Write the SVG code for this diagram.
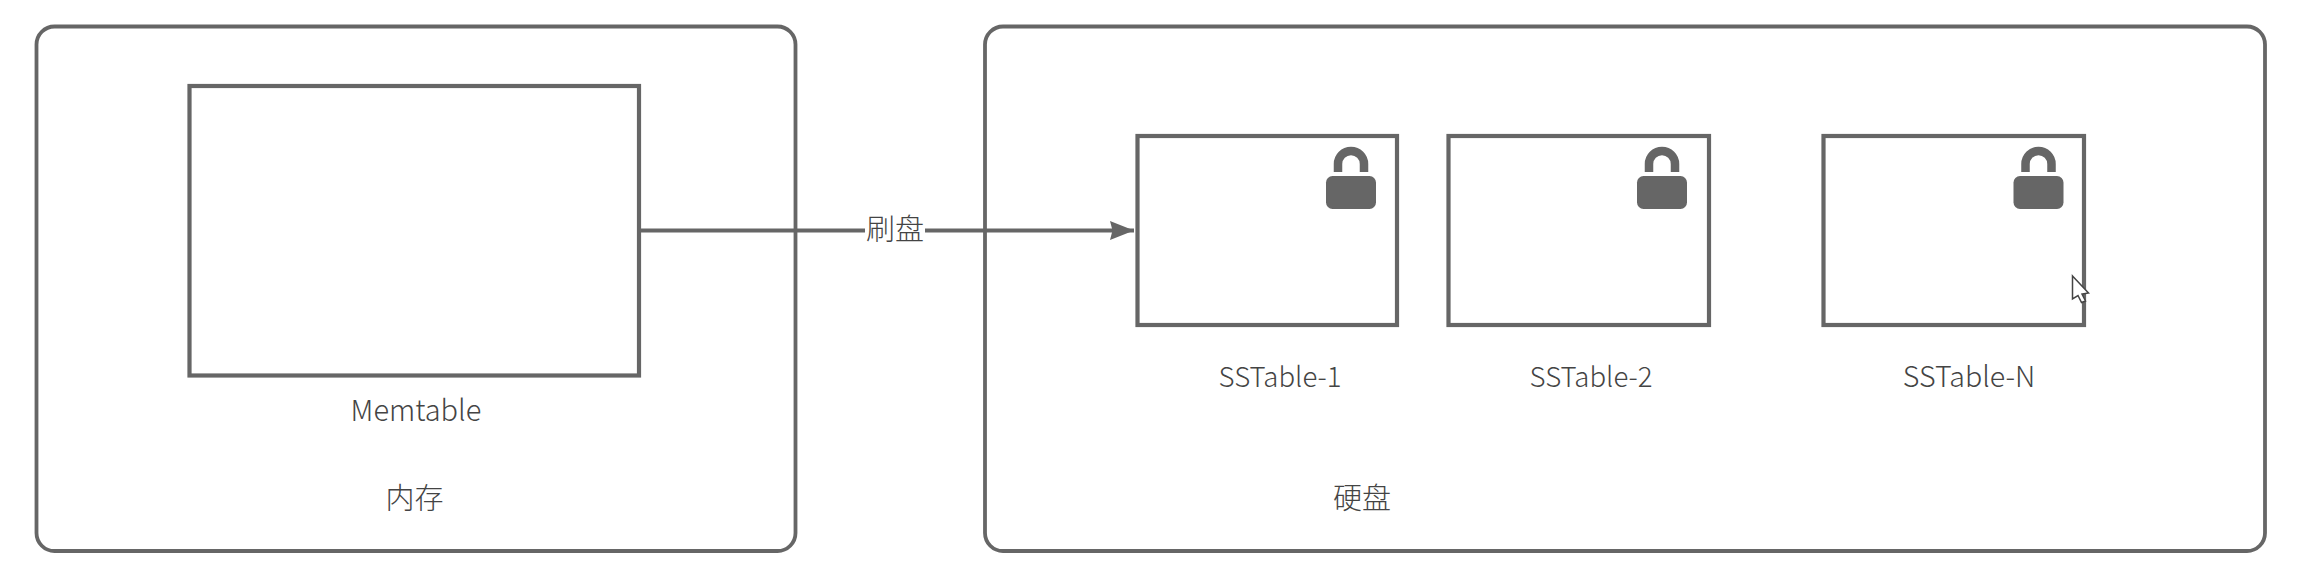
<svg xmlns="http://www.w3.org/2000/svg" width="2304" height="582" viewBox="0 0 2304 582">
<style>
.box{fill:none;stroke:#666;stroke-width:4.2}
.outer{fill:none;stroke:#666;stroke-width:3.8}
.conn{fill:none;stroke:#666;stroke-width:4}
.body{fill:#666}
.shackle{fill:none;stroke:#666;stroke-width:8.5}
text{font-family:"Noto Sans CJK SC","Noto Sans","Liberation Sans",sans-serif;font-size:29px;font-weight:300;fill:#444;text-anchor:middle}
.sst{font-size:27.6px}
</style>
<defs>
<marker id="arrow" markerUnits="userSpaceOnUse" markerWidth="26" markerHeight="20" refX="24" refY="9.5" orient="auto"><path d="M0 0 L24 9.5 L0 19 L2.5 9.5 Z" fill="#666"/></marker>
<g id="lock"><rect class="body" x="-25" y="29" width="50" height="33" rx="6.5"/><path class="shackle" d="M-13 25 V17 A13 13 0 0 1 13 17 V25"/></g>
</defs>
<rect width="2304" height="582" fill="#fff"/>
<g id="memory"><rect class="outer" x="36.5" y="26.5" width="759" height="524.5" rx="18"/><text x="414.5" y="509">内存</text></g>
<g id="disk"><rect class="outer" x="985" y="26.5" width="1280" height="524.5" rx="18"/><text x="1362" y="509">硬盘</text></g>
<g id="memtable"><rect class="box" x="189.5" y="86" width="449.5" height="289.5"/><text x="416" y="421">Memtable</text></g>
<g id="sstable-1"><rect class="box" x="1137.5" y="136" width="259.5" height="189"/><use href="#lock" x="1351" y="147"/><text class="sst" x="1280" y="387">SSTable-1</text></g>
<g id="sstable-2"><rect class="box" x="1448.5" y="136" width="260.5" height="189"/><use href="#lock" x="1662" y="147"/><text class="sst" x="1591" y="387">SSTable-2</text></g>
<g id="sstable-n"><rect class="box" x="1823.5" y="136" width="260.5" height="189"/><use href="#lock" x="2038.5" y="147"/><text x="1969" y="387" style="font-size:28.6px">SSTable-N</text></g>
<g id="connectors"><path class="conn" d="M639 230.5 H865"/><path class="conn" d="M925 230.5 H1134" marker-end="url(#arrow)"/><text x="895" y="240">刷盘</text></g>
<g id="cursor"><path d="M2072.5 276 L2088.5 293 L2082 294 L2085.5 301 L2081.5 302.5 L2078 295.5 L2072.5 299 Z" fill="#fff" stroke="#444" stroke-width="1.5"/></g>
</svg>
